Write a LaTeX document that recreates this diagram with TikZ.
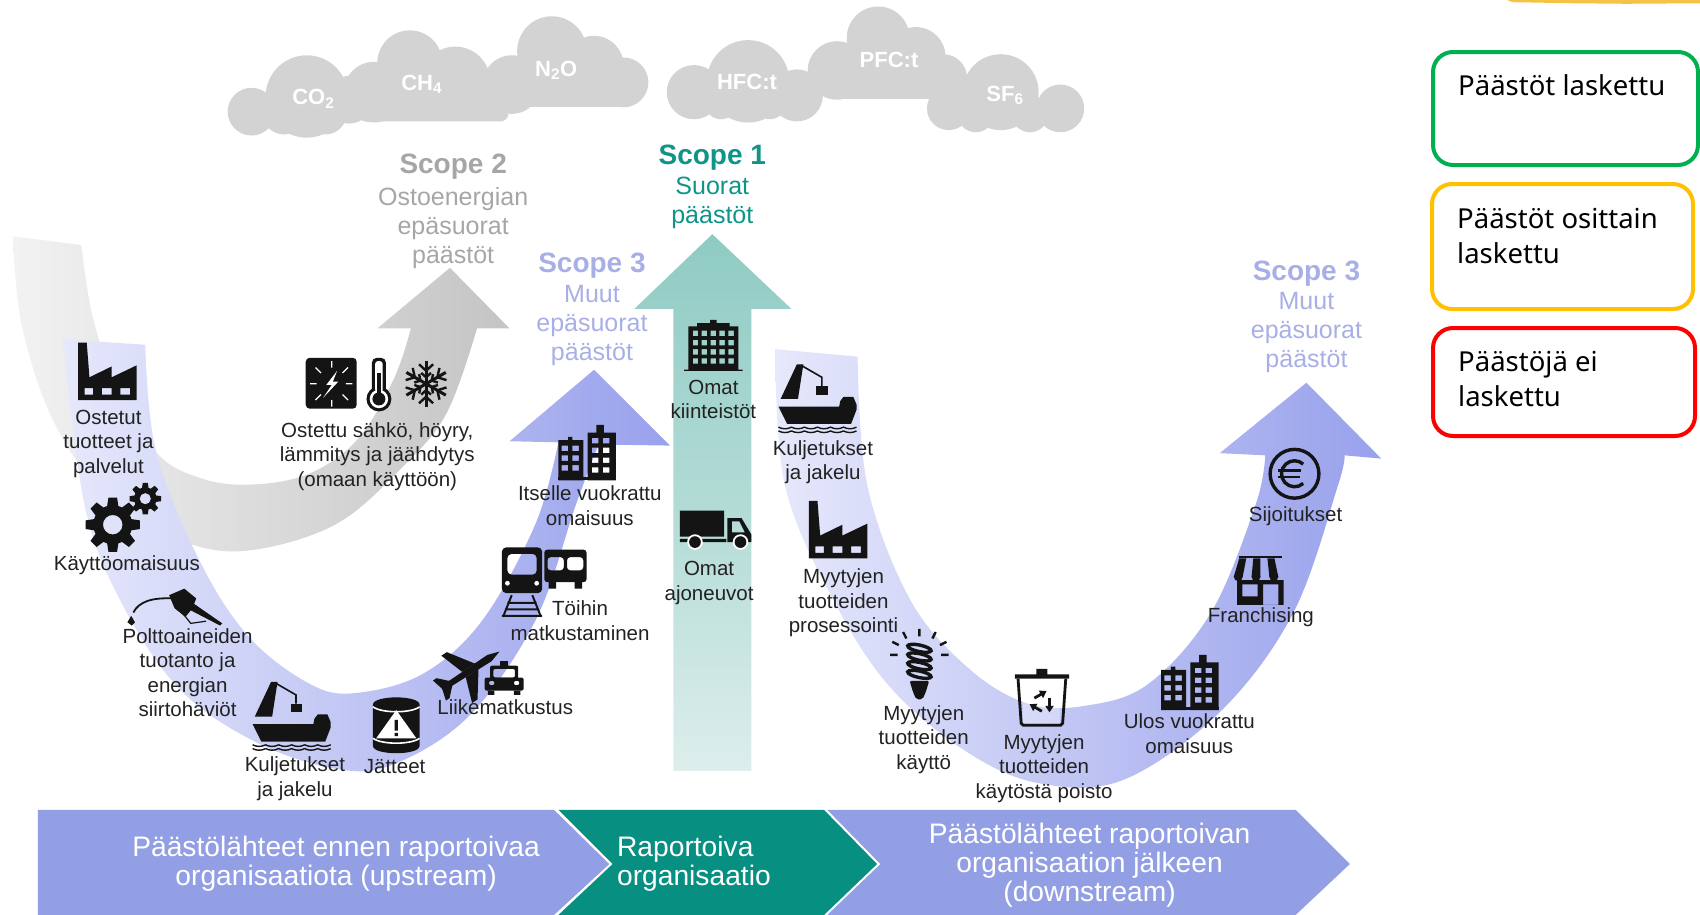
\documentclass[tikz,border=0pt]{standalone}
\usepackage{fontspec}
\setmainfont{Liberation Sans}
\newfontfamily\legendfont{Noto Sans}
\definecolor{inkc}{HTML}{141414}
\definecolor{txtc}{HTML}{222222}
\definecolor{cloudc}{HTML}{D3D3D3}
\definecolor{greyhead}{HTML}{A6A6A6}
\definecolor{tealhead}{HTML}{0F9488}
\definecolor{purphead}{HTML}{A8AFE6}
\definecolor{barpurp}{HTML}{939FE4}
\definecolor{barteal}{HTML}{078F81}
\definecolor{ulight}{HTML}{E6E8FB}
\definecolor{udark}{HTML}{98A1EC}
\definecolor{glight}{HTML}{F2F2F2}
\definecolor{gdark}{HTML}{C4C4C4}
\definecolor{ttop}{HTML}{8FCBC3}
\definecolor{tbot}{HTML}{DDEEEC}
\definecolor{brush}{HTML}{F4C343}
\definecolor{leggreen}{HTML}{00B050}
\definecolor{legorange}{HTML}{FFC000}
\definecolor{legred}{HTML}{FF0000}
\tikzset{
 lbl/.style={align=center,inner sep=0pt,text=txtc,font=\fontsize{20.5}{24.6}\selectfont},
 headl/.style={inner sep=0pt,font=\bfseries\fontsize{28}{30}\selectfont},
 subl/.style={align=center,inner sep=0pt,font=\fontsize{25}{29}\selectfont},
 barl/.style={align=center,inner sep=0pt,text=white,font=\fontsize{28.2}{28.8}\selectfont},
 gasl/.style={inner sep=0pt,text=white,font=\bfseries\fontsize{22}{24}\selectfont},
 legbox/.style={rounded corners=20pt,line width=4pt,fill=white},
 legl/.style={align=left,anchor=north west,inner sep=0pt,text=black,font=\legendfont\fontsize{27.5}{35.5}\selectfont},
 factoryicon/.pic={\fill[inkc,even odd rule] (0,53)--(0,0)--(8,0)--(10.5,32)--(31,22)--(31,32)--(54,21)--(54,53)--cycle
   (6,42) rectangle (14,48) (22,42) rectangle (31,48) (39,42) rectangle (48,48);},
 cityicon/.pic={\fill[inkc,even odd rule] (0,51)--(0,14)--(9,14)--(9,11)--(13,11)--(13,14)--(23,14)--(23,51)--cycle
   foreach \i in {0,1,2}{ foreach \j in {0,1}{ (3+\j*10,19+\i*9) rectangle ++(6,5)}};
  \fill[inkc,even odd rule] (27,51)--(27,7)--(35,7)--(35,0)--(42,0)--(42,7)--(53,7)--(53,51)--cycle
   foreach \i in {0,1,2,3}{ foreach \j in {0,1}{ (31+\j*10,12+\i*9) rectangle ++(6,5)}};
  \fill[inkc] (0,48) rectangle (53,51);},
 officeicon/.pic={\fill[inkc,even odd rule] (4,46)--(4,6)--(12,6)--(12,3)--(24,3)--(24,0)--(30,0)--(30,3)--(42,3)--(42,6)--(50,6)--(50,46)--(54,46)--(54,47)--(0,47)--(0,46)--cycle
   foreach \i in {0,1,2,3}{ foreach \j in {0,1,2,3,4}{ (8+\j*8.2,10+\i*8.5) rectangle ++(5,5)}};},
 shipicon/.pic={\fill[inkc] (2,33)--(17,1)--(23,1)--(18,33)--cycle;
  \draw[inkc,line width=1.6pt] (21,2)--(40,13)--(40,21);
  \fill[inkc] (35,21) rectangle (46,29);
  \fill[inkc] (0,40)--(56,40)--(57,35)--(60,31)--(69,31)--(72,38)--(72,43)--(67,56)--(8,56)--cycle;
  \foreach \yy in {59,62.5}{\draw[inkc,line width=1.4pt] foreach \k in {0,...,5}{(\k*12,\yy) .. controls (\k*12+4,\yy+2) and (\k*12+8,\yy+2) .. (\k*12+12,\yy)};}},
 gearicon/.pic={\fill[inkc,even odd rule] (0,0) circle (.72) (0,0) circle (.36);
  \foreach \a in {0,45,...,315}{\fill[inkc,rotate=\a] (.6,-.22)--(1,-.16)--(1,.16)--(.6,.22)--cycle;}},
 nozzleicon/.pic={\draw[inkc,line width=1.8pt] (5,22) .. controls (10,12) and (22,8) .. (42,9);
  \fill[inkc] (3,25)--(6.5,31)--(3.5,34)--(-.5,31)--cycle;
  \fill[inkc] (38,6)--(52,0)--(63,9)--(61,14)--(87,32)--(85,34)--(58,20)--(53,26)--(43,18)--cycle;
  \draw[inkc,line width=1.2pt] (50,22)--(58,32)--(72,30);},
 barrelicon/.pic={\fill[inkc] (0,7) .. controls (0,-2) and (43,-2) .. (43,7) -- (43,45) .. controls (43,54) and (0,54) .. (0,45) -- cycle;
  \draw[white,line width=1.6pt] (0,9) .. controls (8,15) and (35,15) .. (43,9);
  \draw[white,line width=1.6pt] (0,38) .. controls (8,44) and (35,44) .. (43,38);
  \fill[white] (21.5,12)--(40,38)--(3,38)--cycle;
  \fill[inkc] (20,21) rectangle (23,31) (20,33) rectangle (23,36);},
 planeicon/.pic={\begin{scope}[shift={(28,21)},rotate=33]
   \fill[inkc] (-30,-2.5)--(22,-3.5)--(33,0)--(22,3.5)--(-30,2.5)--cycle;
   \fill[inkc] (8,-3)--(-8,-26)--(-14,-26)--(-6,-3)--cycle;
   \fill[inkc] (8,3)--(-8,26)--(-14,26)--(-6,3)--cycle;
   \fill[inkc] (-20,-2)--(-29,-11)--(-33,-11)--(-30,0)--(-33,11)--(-29,11)--(-20,2)--cycle;
  \end{scope}},
 taxiicon/.pic={\fill[inkc,even odd rule,rounded corners=2pt] (5,4) rectangle (31,18) (8,7) rectangle (28,15);
  \fill[inkc] (14,0) rectangle (22,4);
  \fill[inkc,even odd rule,rounded corners=2pt] (0,15) rectangle (36,27) (4,18) rectangle (9,22) (27,18) rectangle (32,22);
  \fill[inkc] (3,27) rectangle (9,31) (27,27) rectangle (33,31);},
 trainicon/.pic={\fill[inkc,even odd rule,rounded corners=4pt] (0,0) rectangle (37,42) (5,6) rectangle (32,25);
  \fill[white] (5,33) circle (2.2) (32,33) circle (2.2);
  \draw[inkc,line width=2pt] (9,44)--(1,64) (28,44)--(36,64) (5,51)--(32,51) (3,57)--(34,57) (0,63)--(37,63);},
 busicon/.pic={\fill[inkc,even odd rule,rounded corners=3pt] (0,0) rectangle (39,30) (3,7) rectangle (18,19) (21,7) rectangle (36,19);
  \fill[inkc] (4,30) rectangle (11,36) (28,30) rectangle (35,36);},
 elecicon/.pic={\fill[inkc,rounded corners=4pt] (0,0) rectangle (47,47);
  \fill[white] (29,12)--(19,25)--(24,25)--(16,37)--(30,22)--(25,22)--cycle;
  \draw[white,line width=1.2pt] (24,3)--(24,9) (24,39)--(24,45) (4,24)--(10,24) (37,24)--(43,24) (9,9)--(14,14) (34,34)--(39,39) (9,39)--(14,34) (34,14)--(39,9);},
 thermoicon/.pic={\fill[inkc] (11.5,38) circle (11.5);\fill[inkc,rounded corners=5pt] (5,0) rectangle (18,34);
  \fill[white,rounded corners=3pt] (8,3) rectangle (15,32);\fill[white] (11.5,38) circle (8.5);
  \fill[inkc] (11.5,38) circle (6);\fill[inkc] (10,14) rectangle (13,36);},
 snowicon/.pic={\foreach \a in {0,60,...,300}{\begin{scope}[shift={(21,21)},rotate=\a]
   \draw[inkc,line width=3pt] (0,0)--(0,-21);
   \draw[inkc,line width=2.4pt] (-6.5,-18)--(0,-12)--(6.5,-18) (-4.5,-10)--(0,-6)--(4.5,-10);
  \end{scope}}},
 truckicon/.pic={\fill[inkc] (0,0) rectangle (41,24) (0,26) rectangle (43,29);
  \fill[inkc,even odd rule] (44,7)--(57,7)--(66,22)--(66,29)--(44,29)--cycle (48,10)--(55,10)--(60,20)--(48,20)--cycle;
  \foreach \xx in {14,56}{\fill[white] (\xx,29) circle (7.2);\fill[inkc] (\xx,29) circle (5.4);}},
 bulbicon/.pic={\draw[inkc,line width=2.4pt] (27,0)--(27,7) (12,3)--(15,9) (42,3)--(39,9) (2,12)--(8,15) (52,12)--(46,15) (0,24)--(7,24) (47,24)--(54,24);
  \foreach \yy in {18,26,34,42}{\draw[inkc,line width=3.4pt,rotate around={-12:(27,\yy)}] (27,\yy) ellipse (11 and 3);}
  \fill[inkc,rounded corners=2pt] (18,48)--(36,48)--(33,58)--(30,65)--(24,65)--(21,58)--cycle;},
 binicon/.pic={\fill[inkc] (20,0) rectangle (30,5) (0,5) rectangle (50,9);
  \draw[inkc,line width=2.8pt,rounded corners=2pt] (3,9)--(6,52)--(44,52)--(47,9);
  \fill[white,opacity=.3] (8,9) rectangle (42,50);
  \foreach \a in {30,150,270}{\begin{scope}[shift={(25,31)},rotate=\a]
   \draw[inkc,line width=2.8pt] (-4,-7)--(4,-7);\fill[inkc] (3,-11)--(9,-7)--(3,-3)--cycle;\end{scope}}},
 shopicon/.pic={\fill[inkc] (5,0) rectangle (44,2);
  \foreach \k in {0,2,4}{\fill[inkc] (5+\k*6.5,2)--(5+\k*6.5+6.5,2)--(\k*8.2+8.2,19)--(\k*8.2,19)--cycle;}
  \foreach \k in {0,2,4}{\fill[inkc] (\k*8.2+4.1,19) circle (4.1);}
  \fill[inkc,even odd rule] (3,22) rectangle (46,45) (8,26) rectangle (22,37) (27,26) rectangle (41,45);},
 euroicon/.pic={\draw[inkc,line width=3.4pt] (0,0) circle (22.5);
  \draw[inkc,line width=3.4pt] (0,0) ++(48:12) arc[start angle=48,end angle=312,radius=12];
  \draw[inkc,line width=2.4pt] (-15,-3)--(6,-3) (-15,3)--(5,3);},
}
\begin{document}
\begin{tikzpicture}[x=1.08418pt,y=-1.08412pt]
\useasboundingbox (0,0) rectangle (1568,844);
% yellow stroke
\fill[brush] (1390,0)--(1568,0)--(1568,3)--(1500,3.5)--(1450,3)--(1395,2)--cycle;
% clouds
\fill[cloudc] (232,103) circle (22) (283,89) circle (38) (262,104) circle (20) (300,104) circle (20) (322,92) circle (22);
\fill[cloudc] (378,58) circle (30) (420,75) circle (32) (345,85) circle (28);
\fill[cloudc,rounded corners=8pt] (330,85) rectangle (469,112);
\fill[cloudc] (509,47) circle (32) (548,60) circle (27) (472,78) circle (27) (575,76) circle (23);
\fill[cloudc] (470,75) rectangle (578,99);
\fill[cloudc] (690,75) circle (38) (640,85) circle (25) (735,88) circle (24) (665,95) circle (15) (710,95) circle (15);
\fill[cloudc] (810,35) circle (29) (845,52) circle (27) (772,65) circle (27) (870,72) circle (22);
\fill[cloudc] (772,60) rectangle (880,91);
\fill[cloudc] (923,85) circle (35) (875,100) circle (20) (978,100) circle (22) (900,105) circle (17) (950,105) circle (17);
\node[gasl] (g1) at (289,91) {CO\textsubscript{2}};
\node[gasl] (g2) at (389,78) {CH\textsubscript{4}};
\node[gasl] (g3) at (513,65) {N\textsubscript{2}O};
\node[gasl] (g4) at (689,76) {HFC:t};
\node[gasl] (g5) at (820,55) {PFC:t};
\node[gasl] (g6) at (927,88) {SF\textsubscript{6}};
% grey arrow
\shade[left color=glight,right color=gdark] plot[smooth,tension=.6] coordinates {(12,218)(20,300)(50,390)(100,460)(165,498)(227,508)(309,484)(371,431)(412,381)(440,303)}
 -- (470,303) -- (415,247) -- (348,303) -- (379,303) -- plot[smooth,tension=.6] coordinates {(379,303)(363,350)(330,405)(285,437)(231,447)(185,441)(144,417)(105,350)(85,290)(75,226)} -- cycle;
% left purple U
\shade[left color=ulight,right color=udark] plot[smooth,tension=.6] coordinates {(58,313)(78,466)(111,554)(165,635)(235,684)(309,709)(363,705)(433,660)(494,572)(531,466)(552,410)}
 -- (618,411) -- (548,341) -- (470,407) -- (515,408) -- plot[smooth,tension=.6] coordinates {(515,408)(494,483)(445,572)(391,621)(330,639)(288,632)(231,589)(185,519)(144,417)(134,318)} -- cycle;
% right purple U
\shade[left color=ulight,right color=udark] plot[smooth,tension=.6] coordinates {(715,322)(724,448)(769,554)(822,635)(894,695)(961,723)(1037,719)(1126,656)(1193,565)(1234,448)(1240,420)}
 -- (1274,423) -- (1205,353) -- (1125,418) -- (1167,420) -- plot[smooth,tension=.6] coordinates {(1167,420)(1158,466)(1117,565)(1059,631)(1001,651)(948,649)(894,617)(840,554)(800,448)(791,329)} -- cycle;
% teal arrow
\shade[top color=ttop,bottom color=tbot,middle color=ttop!55!tbot] (621,711) -- (621,285) -- (585,285) -- (657,216) -- (730,285) -- (693,285) -- (693,711) -- cycle;
% bottom chevrons
\fill[barpurp] (35,747) -- (511,747) -- (562,797) -- (511,844) -- (35,844) -- cycle;
\fill[barteal] (515,747) -- (760,747) -- (809,797) -- (760,844) -- (515,844) -- (565,797) -- cycle;
\fill[barpurp] (763,747) -- (1195,747) -- (1245,797) -- (1195,844) -- (763,844) -- (812,797) -- cycle;
\node[barl] (b1) at (310,797) {Päästölähteet ennen raportoivaa\\organisaatiota (upstream)};
\node[barl,align=left,anchor=west] (b2) at (569,797) {Raportoiva\\organisaatio};
\node[barl] (b3) at (1005,798) {Päästölähteet raportoivan\\organisaation jälkeen\\(downstream)};
% scope headings
\node[headl,text=greyhead] (s2h) at (418,154) {Scope 2};
\node[subl,text=greyhead] (s2t) at (418,210.5) {Ostoenergian\\epäsuorat\\päästöt};
\node[headl,text=tealhead] (s1h) at (657,145) {Scope 1};
\node[subl,text=tealhead] (s1t) at (657,187) {Suorat\\päästöt};
\node[headl,text=purphead] (s3h) at (546,245) {Scope 3};
\node[subl,text=purphead] (s3t) at (546,300) {Muut\\epäsuorat\\päästöt};
\node[headl,text=purphead] (s4h) at (1205,252) {Scope 3};
\node[subl,text=purphead] (s4t) at (1205,307) {Muut\\epäsuorat\\päästöt};
% icons
\pic at (72,316) {factoryicon};
\pic[scale=25] at (104,484) {gearicon};
\pic[scale=14.5] at (134,460) {gearicon};
\pic at (118,543) {nozzleicon};
\pic at (233,628) {shipicon};
\pic at (344,643) {barrelicon};
\pic at (405,598) {planeicon};
\pic at (447,610) {taxiicon};
\pic at (463,505) {trainicon};
\pic at (502,507) {busicon};
\pic at (515,392) {cityicon};
\pic at (282,330) {elecicon};
\pic at (338,330) {thermoicon};
\pic at (372,333) {snowicon};
\pic at (631,295) {officeicon};
\pic at (627,471) {truckicon};
\pic at (718,335) {shipicon};
\pic at (746,462) {factoryicon};
\pic at (821,580) {bulbicon};
\pic at (936,617) {binicon};
\pic at (1071,604) {cityicon};
\pic at (1138,513) {shopicon};
\pic at (1194,437) {euroicon};
% labels
\node[lbl] (l1) at (100,409.5) {Ostetut\\tuotteet ja\\palvelut};
\node[lbl] (l2) at (117,521) {Käyttöomaisuus};
\node[lbl] (l3) at (173,620.5) {Polttoaineiden\\tuotanto ja\\energian\\siirtohäviöt};
\node[lbl] (l4) at (272,718.5) {Kuljetukset\\ja jakelu};
\node[lbl] (l5) at (364,707) {Jätteet};
\node[lbl] (l6) at (466,652) {Liikematkustus};
\node[lbl] (l7) at (535,572.5) {Töihin\\matkustaminen};
\node[lbl] (l8) at (544,466.5) {Itselle vuokrattu\\omaisuus};
\node[lbl] (l9) at (348,421) {Ostettu sähkö, höyry,\\lämmitys ja jäähdytys\\(omaan käyttöön)};
\node[lbl] (l10) at (658,368.5) {Omat\\kiinteistöt};
\node[lbl] (l11) at (654,537.5) {Omat\\ajoneuvot};
\node[lbl] (l12) at (759,426.5) {Kuljetukset\\ja jakelu};
\node[lbl] (l13) at (778,556) {Myytyjen\\tuotteiden\\prosessointi};
\node[lbl] (l14) at (852,682) {Myytyjen\\tuotteiden\\käyttö};
\node[lbl] (l15) at (963,709) {Myytyjen\\tuotteiden\\käytöstä poisto};
\node[lbl] (l16) at (1097,676.5) {Ulos vuokrattu\\omaisuus};
\node[lbl] (l17) at (1163,569) {Franchising};
\node[lbl] (l18) at (1195,476) {Sijoitukset};
% legend
\begin{scope}[x=1pt,y=-1pt]
\draw[legbox,draw=leggreen] (1433,52) rectangle (1698,165);
\draw[legbox,draw=legorange] (1432,184) rectangle (1693,309);
\draw[legbox,draw=legred] (1433,328) rectangle (1695,436);
\node[legl] (k1) at (1458,74) {Päästöt laskettu};
\node[legl] (k2) at (1457,208) {Päästöt osittain\\laskettu};
\node[legl] (k3) at (1458,351) {Päästöjä ei\\laskettu};
\end{scope}
\end{tikzpicture}
\end{document}
